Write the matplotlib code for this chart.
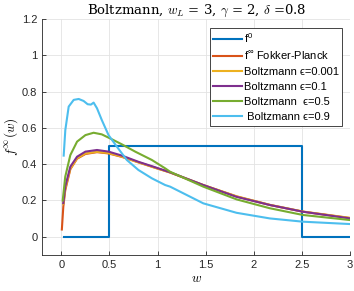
import numpy as np
import matplotlib.pyplot as plt

plt.rcParams['font.family'] = ['Liberation Sans', 'DejaVu Sans']
plt.rcParams['mathtext.fontset'] = 'cm'

# initial datum f^0
w_f0 = [0.028, 0.5, 0.5, 2.5, 2.5, 3.0]
f0 = [0, 0, 0.5, 0.5, 0, 0]

# Fokker-Planck steady state
w_fp = [0.005, 0.02, 0.04, 0.093, 0.163, 0.25, 0.37, 0.49, 0.629, 0.80, 0.974, 1.13, 1.475, 1.82, 2.166, 2.51, 3.0]
f_fp = [0.04, 0.165, 0.255, 0.372, 0.43, 0.456, 0.466, 0.459, 0.44, 0.41, 0.38, 0.354, 0.284, 0.222, 0.175, 0.138, 0.103]

# Boltzmann eps = 0.001
w_b1 = [0.02, 0.04, 0.093, 0.163, 0.25, 0.37, 0.49, 0.629, 0.80, 0.974, 1.13, 1.475, 1.82, 2.166, 2.51, 3.0]
f_b1 = [0.18, 0.265, 0.375, 0.432, 0.459, 0.468, 0.461, 0.441, 0.41, 0.38, 0.354, 0.285, 0.223, 0.176, 0.139, 0.104]

# Boltzmann eps = 0.1
w_b2 = [0.02, 0.04, 0.093, 0.163, 0.25, 0.37, 0.49, 0.629, 0.80, 0.974, 1.13, 1.475, 1.82, 2.166, 2.51, 3.0]
f_b2 = [0.185, 0.276, 0.386, 0.441, 0.469, 0.478, 0.469, 0.447, 0.413, 0.383, 0.355, 0.285, 0.22, 0.175, 0.138, 0.101]

# Boltzmann eps = 0.5
w_b3 = [0.014, 0.04, 0.093, 0.163, 0.25, 0.335, 0.42, 0.525, 0.629, 0.767, 0.94, 1.078, 1.13, 1.475, 1.82, 2.166, 2.51, 3.0]
f_b3 = [0.2, 0.33, 0.45, 0.524, 0.56, 0.573, 0.564, 0.537, 0.509, 0.469, 0.423, 0.377, 0.358, 0.276, 0.206, 0.157, 0.12, 0.092]

# Boltzmann eps = 0.9
w_b4 = [0.024, 0.041, 0.076, 0.128, 0.18, 0.231, 0.273, 0.307, 0.335, 0.37, 0.42, 0.49, 0.577, 0.68, 0.80, 0.94, 1.078, 1.13, 1.475, 1.82, 2.166, 2.51, 3.0]
f_b4 = [0.447, 0.588, 0.717, 0.754, 0.759, 0.748, 0.73, 0.728, 0.739, 0.708, 0.643, 0.56, 0.496, 0.423, 0.368, 0.322, 0.285, 0.276, 0.184, 0.132, 0.101, 0.083, 0.07]

labels = ['$\\mathregular{f^0}$', '$\\mathregular{f^{\\infty}}$ Fokker-Planck', 'Boltzmann \u03f5=0.001',
          'Boltzmann \u03f5=0.1', 'Boltzmann  \u03f5=0.5', ' Boltzmann \u03f5=0.9']
colors = ['#0072BD', '#D95319', '#EDB120', '#7E2F8E', '#77AC30', '#4DBEEE']

fig = plt.figure(figsize=(3.54, 2.91), dpi=100)
ax = fig.add_axes([0.119, 0.124, 0.870, 0.811])

series = [(w_f0, f0), (w_fp, f_fp), (w_b1, f_b1), (w_b2, f_b2), (w_b3, f_b3), (w_b4, f_b4)]
for (w, f), c, lab in zip(series, colors, labels):
    ax.plot(w, f, color=c, linewidth=1.5, label=lab)

ax.set_xlim(-0.2, 3)
ax.set_ylim(-0.1, 1.2)
ax.set_xticks(np.arange(0, 3.01, 0.5))
ax.set_xticklabels(['0', '0.5', '1', '1.5', '2', '2.5', '3'])
ax.set_yticks(np.arange(0, 1.21, 0.2))
ax.set_yticklabels(['0', '0.2', '0.4', '0.6', '0.8', '1', '1.2'])
ax.grid(True, color='#e3e3e3', linewidth=0.6)
ax.set_axisbelow(True)
for s in ['top', 'right']:
    ax.spines[s].set_visible(False)
for s in ['left', 'bottom']:
    ax.spines[s].set_color('#262626')
    ax.spines[s].set_linewidth(0.6)
ax.tick_params(direction='in', length=3, width=0.6, colors='#262626', labelsize=8)

ax.set_title('Boltzmann, $w_L$ = 3, $\\gamma$ = 2, $\\delta$ =0.8', family='serif',
             fontsize=9.5, pad=3)
ax.set_xlabel('$w$', fontsize=9.5, labelpad=2)
ax.set_ylabel('$f^\\infty(w)$', fontsize=9.5, labelpad=1)

leg = ax.legend(loc='upper right', bbox_to_anchor=(0.974, 0.962), fontsize=8,
                fancybox=False, framealpha=1, edgecolor='#262626', handlelength=2.6,
                borderpad=0.3, labelspacing=0.45, handletextpad=0.15, borderaxespad=0)
leg.get_frame().set_linewidth(0.6)

fig.savefig('out.png', dpi=100)
